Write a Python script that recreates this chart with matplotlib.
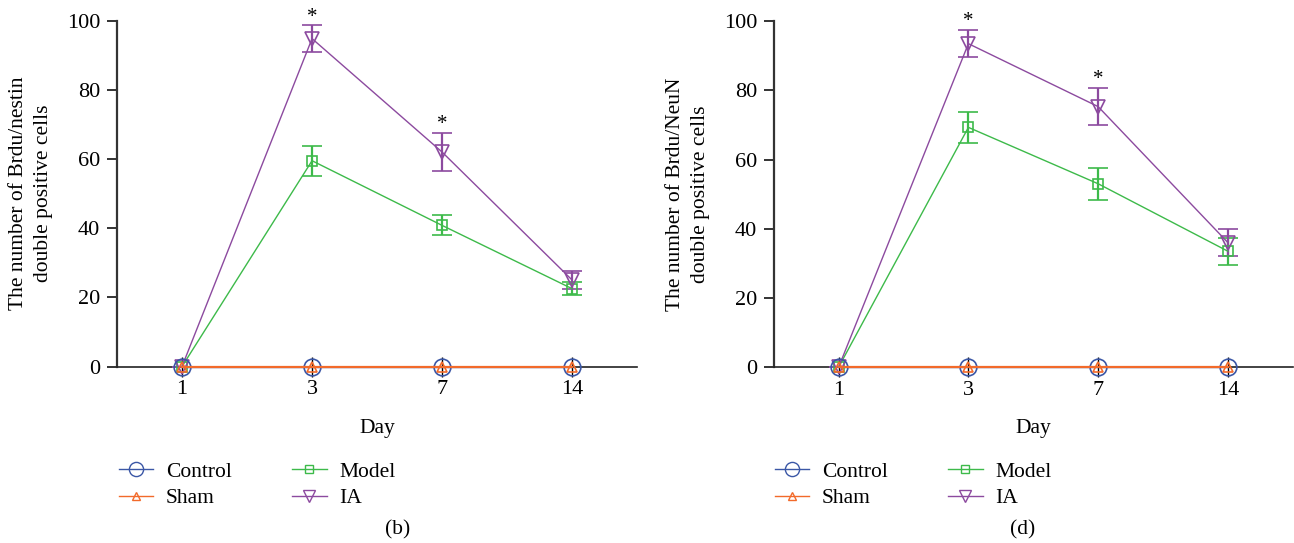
import matplotlib
matplotlib.use('Agg')
import matplotlib.pyplot as plt
from matplotlib.lines import Line2D

plt.rcParams['font.family'] = ['Liberation Serif', 'DejaVu Serif']

days = ['1', '3', '7', '14']
groups = ['Control', 'Sham', 'Model', 'IA']

# panel (b) Brdu/nestin
b_control = [0, 0, 0, 0]
b_sham = [0, 0, 0, 0]
b_model = [0, 59.5, 40.8, 22.5]
b_model_err = [0, 4.4, 2.9, 1.8]
b_ia = [0, 94.8, 62.0, 25.0]
b_ia_err = [0, 3.8, 5.6, 2.5]

# panel (d) Brdu/NeuN
d_control = [0, 0, 0, 0]
d_sham = [0, 0, 0, 0]
d_model = [0, 69.3, 53.0, 33.5]
d_model_err = [0, 4.5, 4.6, 3.9]
d_ia = [0, 93.5, 75.3, 36.0]
d_ia_err = [0, 4.0, 5.4, 4.0]

star_days = [1, 2]  # index of days with *

colors = {'Control': '#3b57a6', 'Sham': '#f26a2a', 'Model': '#3dba4a', 'IA': '#8c4a9f'}
markers = {'Control': ('o', 12), 'Sham': ('^', 7), 'Model': ('s', 7.5), 'IA': ('v', 10)}

fig = plt.figure(figsize=(12.94, 5.43), dpi=100)


def draw_panel(rect, control, sham, model, model_err, ia, ia_err, ylabel, tag, tag_x, leg_x):
  ax = fig.add_axes(rect)
  x = list(range(len(days)))
  for name, y, err in [('Model', model, model_err), ('IA', ia, ia_err)]:
    m, ms = markers[name]
    ax.errorbar(x, y, yerr=err, color=colors[name], marker=m, markersize=ms,
                markerfacecolor='none', markeredgewidth=1.2, linewidth=1.0,
                elinewidth=1.6, capsize=7, capthick=1.6, clip_on=False, zorder=3)
  for name, y in [('Control', control), ('Sham', sham)]:
    m, ms = markers[name]
    ax.plot(x, y, color=colors[name], marker=m, markersize=ms,
            markerfacecolor='none', markeredgewidth=1.2,
            linewidth=1.6 if name == 'Sham' else 1.0, clip_on=False, zorder=4)
  for i in star_days:
    ax.annotate('*', (x[i], ia[i] + ia_err[i]), xytext=(0, -1), textcoords='offset points',
                ha='center', va='bottom', fontsize=15)
  ax.set_xlim(-0.5, 3.5)
  ax.set_ylim(0, 100)
  ax.set_xticks(x)
  ax.set_xticklabels(days)
  ax.set_yticks([0, 20, 40, 60, 80, 100])
  for s in ['top', 'right']:
    ax.spines[s].set_visible(False)
  ax.spines['left'].set_linewidth(1.6)
  ax.spines['left'].set_color('#333333')
  ax.spines['bottom'].set_linewidth(1.2)
  ax.spines['bottom'].set_color('#222222')
  ax.tick_params(axis='y', direction='out', length=7, width=1.4, color='#333333', labelsize=16, pad=5)
  ax.tick_params(axis='x', direction='inout', length=14, width=1.0, labelsize=16, pad=3)
  ax.set_xlabel('Day', fontsize=15.5, labelpad=14)
  ax.set_ylabel(ylabel, fontsize=15.5, labelpad=10, linespacing=1.45)

  handles = []
  for name in ['Control', 'Sham', 'Model', 'IA']:
    m, ms = markers[name]
    handles.append(Line2D([], [], color=colors[name], marker=m, markersize=ms * 0.85,
                          markerfacecolor='none', linewidth=1.0))
  fig.legend(handles, ['Control', 'Sham', 'Model', 'IA'], loc='upper left',
             bbox_to_anchor=(leg_x, 0.166), bbox_transform=fig.transFigure,
             ncol=2, frameon=False, fontsize=15.5, handlelength=1.6, handletextpad=0.6,
             columnspacing=2.8, labelspacing=0.3, borderaxespad=0)
  fig.text(tag_x, 0.024, tag, ha='center', va='center', fontsize=15.5)
  return ax


draw_panel([0.0904, 0.325, 0.402, 0.637], b_control, b_sham, b_model, b_model_err,
           b_ia, b_ia_err, 'The number of Brdu/nestin\ndouble positive cells', '(b)', 0.3076, 0.085)
draw_panel([0.598, 0.324, 0.401, 0.637], d_control, d_sham, d_model, d_model_err,
           d_ia, d_ia_err, 'The number of Brdu/NeuN\ndouble positive cells', '(d)', 0.790, 0.592)

fig.savefig('out.png', dpi=100)
